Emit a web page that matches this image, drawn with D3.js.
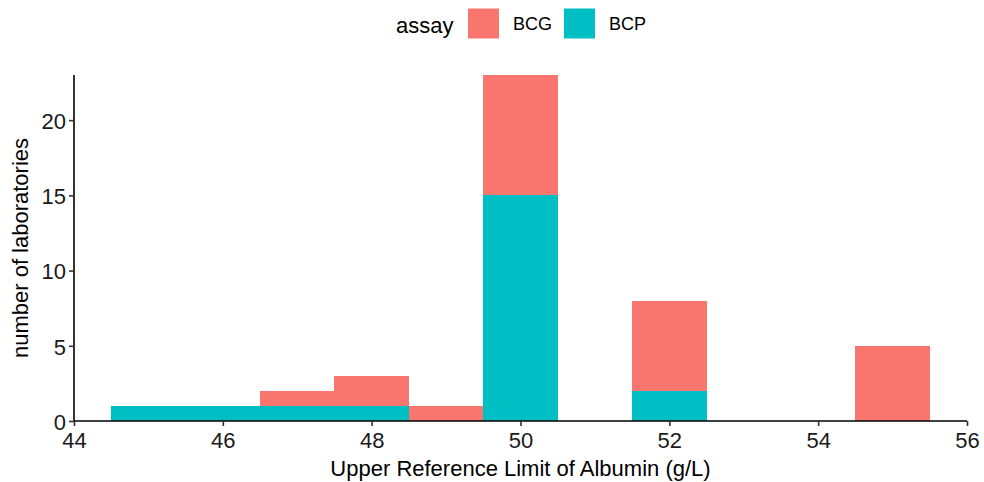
<!DOCTYPE html>
<html>
<head>
<meta charset="utf-8">
<script src="https://cdn.jsdelivr.net/npm/d3@7"></script>
<style>
  html, body { margin: 0; padding: 0; background: #fff; }
  svg { display: block; font-family: "Liberation Sans", Arial, sans-serif; }
</style>
</head>
<body>
<svg id="chart" width="984" height="482"></svg>
<script>
// Bin centres (g/L), binwidth 1
const bins = [45, 46, 47, 48, 49, 50, 51, 52, 53, 54, 55];
// Laboratory counts per bin for each assay
const bcp = [1, 1, 1, 1, 0, 15, 0, 2, 0, 0, 0];
const bcg = [0, 0, 1, 2, 1, 8, 0, 6, 0, 0, 5];
const assays = ["BCG", "BCP"];
const colors = ["#F8766D", "#00BFC4"];
const xTicks = [44, 46, 48, 50, 52, 54, 56];
const yTicks = [0, 5, 10, 15, 20];

const svg = d3.select("#chart");
const margin = { left: 74, right: 17, top: 75, bottom: 61 };
const W = 984, H = 482;

const x = d3.scaleLinear().domain([44, 56]).range([margin.left, W - margin.right]);
const y = d3.scaleLinear().domain([0, 23]).range([H - margin.bottom, margin.top]);

const rows = bins.map((b, i) => ({ bin: b, BCP: bcp[i], BCG: bcg[i] }));
// BCP sits at the bottom, BCG stacked on top
const stack = d3.stack().keys(["BCP", "BCG"])(rows);
const colorOf = d3.scaleOrdinal().domain(assays).range(colors);

svg.append("g").attr("shape-rendering", "crispEdges").selectAll("g")
  .data(stack)
  .join("g")
  .attr("fill", d => colorOf(d.key))
  .selectAll("rect")
  .data(d => d.filter(s => s[1] > s[0]))
  .join("rect")
  .attr("x", d => x(d.data.bin - 0.5))
  .attr("width", d => x(d.data.bin + 0.5) - x(d.data.bin - 0.5))
  .attr("y", d => y(d[1]))
  .attr("height", d => y(d[0]) - y(d[1]));

// Axes
const xAxis = svg.append("g")
  .attr("transform", `translate(0,${H - margin.bottom})`)
  .call(d3.axisBottom(x).tickValues(xTicks).tickSize(5).tickPadding(6));
const yAxis = svg.append("g")
  .attr("transform", `translate(${margin.left},0)`)
  .call(d3.axisLeft(y).tickValues(yTicks).tickSize(5).tickPadding(3));

[xAxis, yAxis].forEach(g => {
  g.select(".domain").attr("stroke", "#000").attr("stroke-width", 1.6);
  g.selectAll(".tick line").attr("stroke", "#333").attr("stroke-width", 1.6);
  g.selectAll(".tick text").attr("fill", "#1a1a1a").style("font-size", "22px")
    .style("font-family", "Liberation Sans, Arial, sans-serif");
});
yAxis.selectAll(".tick text").attr("dy", "0.38em");
// straight axis lines without outer ticks
xAxis.select(".domain").attr("d", `M${margin.left},0H${W - margin.right}`);
yAxis.select(".domain").attr("d", `M0,${H - margin.bottom}V${margin.top}`);

// Axis titles
svg.append("text")
  .attr("x", (margin.left + W - margin.right) / 2)
  .attr("y", 476)
  .attr("text-anchor", "middle")
  .style("font-size", "22px")
  .attr("fill", "#000")
  .text("Upper Reference Limit of Albumin (g/L)");

svg.append("text")
  .attr("transform", `translate(28,${(margin.top + H - margin.bottom) / 2}) rotate(-90)`)
  .attr("text-anchor", "middle")
  .style("font-size", "22px")
  .attr("fill", "#000")
  .text("number of laboratories");

// Legend
const legend = svg.append("g");
legend.append("text")
  .attr("x", 396).attr("y", 33)
  .style("font-size", "22px").attr("fill", "#000")
  .text("assay");
assays.forEach((a, i) => {
  const gx = 468 + i * 96;
  legend.append("rect")
    .attr("x", gx).attr("y", 8.5).attr("width", 31).attr("height", 30)
    .attr("fill", colorOf(a));
  legend.append("text")
    .attr("x", gx + 45).attr("y", 30)
    .style("font-size", "18px").attr("fill", "#000")
    .text(a);
});
</script>
</body>
</html>
